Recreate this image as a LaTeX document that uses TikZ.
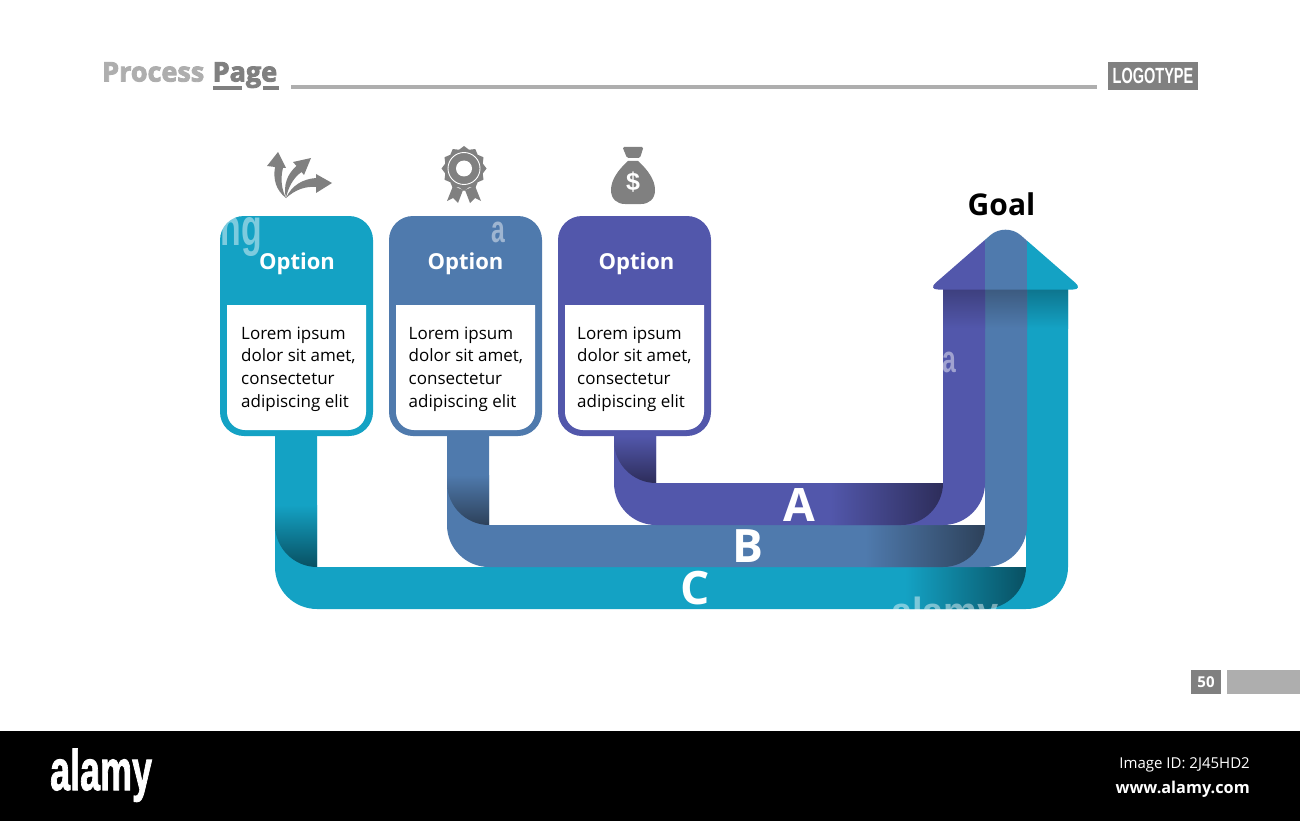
\documentclass[tikz,border=0pt]{standalone}
\usepackage{fontspec}
\setmainfont{Open Sans}
\newfontfamily\logofont{Liberation Sans}
\newfontfamily\heavyfont[FakeBold=3.2]{Open Sans Bold}
\newfontfamily\logoheavy[FakeBold=1.8]{Liberation Sans Bold}
\usetikzlibrary{shapes.geometric}

\definecolor{ribA}{RGB}{82,87,171}
\definecolor{ribB}{RGB}{79,122,173}
\definecolor{ribC}{RGB}{20,162,196}
\definecolor{darkA}{RGB}{45,45,90}
\definecolor{darkB}{RGB}{45,65,90}
\definecolor{darkC}{RGB}{8,80,98}
\definecolor{iconGray}{RGB}{128,128,128}
\definecolor{lightGray}{RGB}{174,174,174}

\tikzset{
    optcard/.style={rounded corners=24pt, minimum width=153pt, minimum height=220pt, inner sep=0pt},
    opttitle/.style={text=white, font=\fontsize{22}{26}\selectfont\bfseries},
    optbody/.style={anchor=west, align=left, inner sep=0pt, font=\fontsize{17}{22.6}\selectfont},
    letter/.style={text=white, font=\fontsize{46}{50}\selectfont\bfseries},
    wmark/.style={text=white, text opacity=0.45, inner sep=0pt, font=\logofont\bfseries\fontsize{38}{40}\selectfont}
}

\begin{document}
\begin{tikzpicture}[x=1pt, y=-1pt]

        \useasboundingbox (0,0) rectangle (1300,821);
        \fill[white] (0,0) rectangle (1300,821);

        \node[anchor=base west, inner sep=0pt, text=lightGray, font=\heavyfont\fontsize{27}{30}\selectfont] (titleA) at (102,81.5) {Process};
        \node[anchor=base west, inner sep=0pt, text=iconGray, font=\heavyfont\fontsize{27}{30}\selectfont] (titleB) at (212.5,81.5) {Page};
        \fill[iconGray] (213,86) rectangle (242,90);
        \fill[iconGray] (263,86) rectangle (279,90);
        \fill[lightGray] (291,85.5) rectangle (1097,89.5);

        \node[fill=iconGray, minimum width=90pt, minimum height=28pt, inner sep=0pt, text=white] (logo) at (1153,76)
            {\logofont\bfseries\fontsize{22}{24}\selectfont\scalebox{0.66}[1]{LOGOTYPE}};

        \foreach \xl/\xr/\yb/\yf/\xf/\col/\dk in {275/1068/609/505/905/ribC/darkC, 447/1027/567/475/865/ribB/darkB, 614/985/525/436/830/ribA/darkA} {
            \fill[\col] (\xl,430) [rounded corners=42pt] -- (\xl,\yb) -- (\xr,\yb) [sharp corners] -- (\xr,289)
                -- ({\xr-42},289) -- ({\xr-42},{\yb-42}) -- ({\xl+42},{\yb-42}) -- ({\xl+42},430) -- cycle;

            \shade[top color=\col, middle color=\col!85!\dk, bottom color=\dk] (\xl,\yf) -- ({\xl+42},\yf) -- ({\xl+42},{\yb-42})
                .. controls ({\xl+19},{\yb-42}) and (\xl,{\yb-61}) .. (\xl,{\yb-84}) -- cycle;

            \shade[left color=\col, middle color=\col!85!\dk, right color=\dk] (\xf,{\yb-42}) -- ({\xr-42},{\yb-42})
                .. controls ({\xr-42},{\yb-19}) and ({\xr-61},\yb) .. ({\xr-84},\yb) -- (\xf,\yb) -- cycle;

            \shade[top color=\col!45!\dk, middle color=\col!85!\dk, bottom color=\col] ({\xr-42},289) rectangle (\xr,328);
        }

        \begin{scope}
            \clip[rounded corners=10pt] (928,289.5) [rounded corners=20pt] -- (1005.5,222) [rounded corners=10pt] -- (1083,289.5) -- cycle;
            \fill[ribA] (925,215) rectangle (985,295);
            \fill[ribB] (985,215) rectangle (1027,295);
            \fill[ribC] (1027,215) rectangle (1090,295);
        \end{scope}

        \node[font=\fontsize{30}{34}\selectfont\bfseries] (goal) at (1001.5,204) {Goal};

        \node[letter] (letA) at (799,505) {A};
        \node[letter] (letB) at (748,546) {B};
        \node[letter] (letC) at (695,588) {C};

        \foreach \n/\cx/\tx/\bx/\col in {1/296.5/297/241/ribC, 2/465.5/465.5/408.5/ribB, 3/634.5/636.5/577/ribA} {
            \node[optcard, fill=\col] (card\n) at (\cx,326) {};
            \fill[white] ({\cx-69.5},305) -- ({\cx+69.5},305) [rounded corners=18pt] -- ({\cx+69.5},430) -- ({\cx-69.5},430) [sharp corners] -- cycle;
            \node[opttitle] (opt\n) at (\tx,264) {Option};
            \node[optbody] (body\n) at (\bx,369) {Lorem ipsum\\dolor sit amet,\\consectetur\\adipiscing elit};
        }

        \fill[iconGray] (286,198) .. controls (276,190) and (273,180) .. (275,167) -- (267,166) -- (278,152) -- (286,168) -- (283,168)
            .. controls (280,180) and (282,190) .. (286,198) -- cycle;
        \fill[iconGray] (286,198) .. controls (283,186) and (287,174) .. (296.5,166) -- (293,162) -- (311,158) -- (304,175) -- (301.5,172)
            .. controls (293,178) and (288,188) .. (286,198) -- cycle;
        \fill[iconGray] (286,198) .. controls (292,185) and (303,179) .. (316,178) -- (316,174) -- (332,183) -- (316,193) -- (316,187)
            .. controls (305,186) and (295,190) .. (286,198) -- cycle;

        \fill[iconGray] (453,186) -- (447,201) -- (453,198) -- (458,203) -- (463,190) -- cycle;
        \fill[iconGray] (475,186) -- (481,201) -- (475,198) -- (470,203) -- (465,190) -- cycle;
        \node[star, star points=12, star point ratio=1.16, fill=iconGray, minimum size=45pt, inner sep=0pt] (badge) at (464,168.5) {};
        \draw[white, line width=0.9pt] (badge.center) circle (16);
        \fill[white] (badge.center) circle (8);

        \fill[iconGray, rounded corners=1.5pt] (622.5,147) -- (643.5,147) -- (640,158) -- (627,158) -- cycle;
        \fill[iconGray] (628,161) .. controls (618,170) and (611,180) .. (611,190)
            .. controls (611,199) and (617,204) .. (625,204) -- (641,204)
            .. controls (649,204) and (655,199) .. (655,190)
            .. controls (655,180) and (648,170) .. (638,161) -- cycle;
        \node[text=white, inner sep=0pt, font=\logofont\bfseries\fontsize{25}{27}\selectfont] (dollar) at (633,182) {\$};

        \begin{scope}
            \clip (220,216) rectangle (373,261);
            \node[wmark, font=\logofont\bfseries\fontsize{52}{54}\selectfont] (markA) at (241,237) {\scalebox{0.65}[1]{ng}};
        \end{scope}
        \node[wmark] (markB) at (498.5,232) {\scalebox{0.65}[1]{a}};
        \node[wmark] (markC) at (949,362) {\scalebox{0.65}[1]{a}};
        \begin{scope}
            \clip (880,590) rectangle (1010,609);
            \node[wmark, anchor=base] (markD) at (945,624) {alamy};
        \end{scope}

        \node[fill=iconGray, minimum width=30pt, minimum height=24pt, inner sep=0pt, text=white, font=\fontsize{15}{17}\selectfont\bfseries] (pageno) at (1206,682) {50};
        \fill[lightGray] (1227,670) rectangle (1300,694);

        \fill[black] (0,731) rectangle (1300,821);
        \node[anchor=base west, inner sep=0pt, text=white, font=\logoheavy\fontsize{57}{60}\selectfont] (alamy) at (50,790) {\scalebox{0.63}[1]{alamy}};
        \node[anchor=base east, inner sep=0pt, text=white, font=\fontsize{15}{17}\selectfont] (imageid) at (1250,768) {Image ID: 2J45HD2};
        \node[anchor=base east, inner sep=0pt, text=white, font=\fontsize{16.3}{19}\selectfont\bfseries] (site) at (1250,793) {www.alamy.com};

    \end{tikzpicture}
\end{document}
